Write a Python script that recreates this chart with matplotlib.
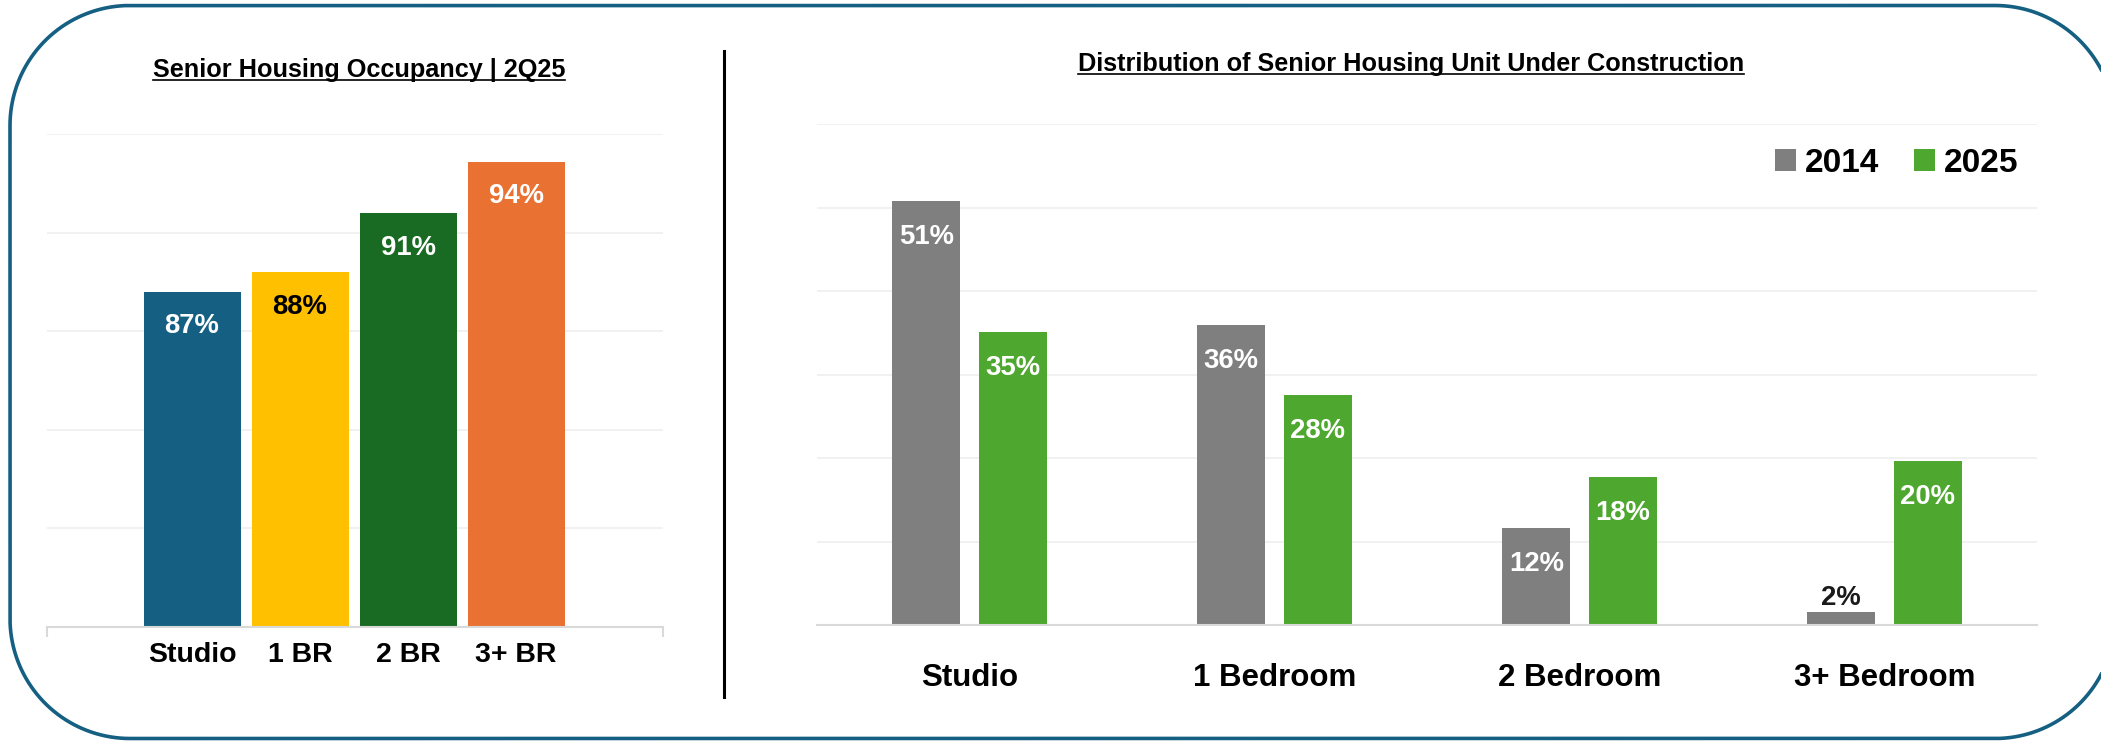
import numpy as np
import matplotlib
matplotlib.use("Agg")
import matplotlib.pyplot as plt
from matplotlib import font_manager
from matplotlib.patches import Patch, PathPatch
from matplotlib.path import Path
from matplotlib.transforms import IdentityTransform
from matplotlib.lines import Line2D

# left chart: occupancy by unit type
occ_cats = ["Studio", "1 BR", "2 BR", "3+ BR"]
occ_vals = [0.87, 0.88, 0.91, 0.936]
occ_colors = ["#156082", "#ffc000", "#196b24", "#e97132"]
occ_label_colors = ["white", "black", "white", "white"]

# right chart: units under construction
dist_cats = ["Studio", "1 Bedroom", "2 Bedroom", "3+ Bedroom"]
dist_2014 = [0.508, 0.359, 0.116, 0.016]
dist_2025 = [0.351, 0.276, 0.177, 0.196]
series_names = ["2014", "2025"]
series_colors = ["#7f7f7f", "#4ea72e"]

W, H = 2101, 742
BORDER = "#156082"
GRID = "#efefef"
AXIS = "#d9d9d9"

names = {f.name for f in font_manager.fontManager.ttflist}
if "Liberation Sans Narrow" in names:
    TITLE_FONT, TITLE_SIZE = "Liberation Sans Narrow", 22
else:
    TITLE_FONT, TITLE_SIZE = "Liberation Sans", 18.2
plt.rcParams["font.family"] = ["Liberation Sans", "DejaVu Sans"]


def px_box(x0, y0, x1, y1):
    # pixel box (y from top) -> figure fraction rect
    return [x0 / W, (H - y1) / H, (x1 - x0) / W, (y1 - y0) / H]


def style_axes(ax):
    ax.set_facecolor("none")
    for s in ["top", "left", "right"]:
        ax.spines[s].set_visible(False)
    ax.spines["bottom"].set_color(AXIS)
    ax.spines["bottom"].set_linewidth(1.5)
    ax.yaxis.grid(True, color=GRID, linewidth=1.2)
    ax.set_axisbelow(True)
    ax.tick_params(axis="y", length=0, labelleft=False)


def rounded_frame(x0, y0, x1, y1, r):
    # closed outline in pixel coords (y up), circular corners
    pts = []
    for cx, cy, a0 in [(x1 - r, y1 - r, 0), (x0 + r, y1 - r, 90),
                       (x0 + r, y0 + r, 180), (x1 - r, y0 + r, 270)]:
        a = np.radians(np.linspace(a0, a0 + 90, 40))
        pts += list(zip(cx + r * np.cos(a), cy + r * np.sin(a)))
    pts.append(pts[0])
    return Path(pts)


fig = plt.figure(figsize=(W / 100, H / 100), dpi=100)

# ---- left chart
ax1 = fig.add_axes(px_box(47, 134, 663, 627))
style_axes(ax1)
xl0, xl1 = -1.343, 4.361
x1 = np.arange(len(occ_cats))
ax1.bar(x1, occ_vals, width=0.898, color=occ_colors, zorder=2)
ax1.set_xlim(xl0, xl1)
ax1.set_ylim(0.70, 0.95)
ax1.set_yticks([0.70, 0.75, 0.80, 0.85, 0.90, 0.95])
ax1.set_xticks(x1)
ax1.set_xticklabels(occ_cats, fontsize=20.5, fontweight="bold")
ax1.set_xticks([xl0, xl1], minor=True)
ax1.tick_params(axis="x", which="major", length=0, pad=11)
ax1.tick_params(axis="x", which="minor", length=7, width=1.5, color=AXIS)
for xi, v, c in zip(x1, occ_vals, occ_label_colors):
    ax1.annotate(f"{v:.0%}", (xi, v), xytext=(0, -30), textcoords="offset points",
                 ha="center", va="baseline", fontsize=19.8, fontweight="bold", color=c)

# ---- right chart
ax2 = fig.add_axes(px_box(817, 124, 2037, 625))
style_axes(ax2)
x2 = np.arange(len(dist_cats))
bw, off = 0.223, 0.1415
ax2.bar(x2 - off, dist_2014, width=bw, color=series_colors[0], zorder=2)
ax2.bar(x2 + off, dist_2025, width=bw, color=series_colors[1], zorder=2)
ax2.set_xlim(-0.5, 3.5)
ax2.set_ylim(0, 0.6)
ax2.set_yticks([0, 0.1, 0.2, 0.3, 0.4, 0.5, 0.6])
ax2.set_xticks(x2)
ax2.set_xticklabels(dist_cats, fontsize=22.5, fontweight="bold")
ax2.tick_params(axis="x", length=0, pad=27)
for xs, vals in [(x2 - off, dist_2014), (x2 + off, dist_2025)]:
    for xi, v in zip(xs, vals):
        if v < 0.05:
            ax2.annotate(f"{v:.0%}", (xi, v), xytext=(0, 5), textcoords="offset points",
                         ha="center", va="baseline", fontsize=19.8, fontweight="bold",
                         color="#1a1a1a")
        else:
            ax2.annotate(f"{v:.0%}", (xi, v), xytext=(0, -31), textcoords="offset points",
                         ha="center", va="baseline", fontsize=19.8, fontweight="bold",
                         color="white")

handles = [Patch(facecolor=c, edgecolor="none") for c in series_colors]
fig.legend(handles, series_names, loc="center right", bbox_to_anchor=(2018 / W, (H - 163) / H),
           ncol=2, frameon=False, prop={"size": 24, "weight": "bold"},
           handlelength=0.63, handleheight=0.63, handletextpad=0.27,
           columnspacing=1.02, borderpad=0, borderaxespad=0)

# ---- titles with underline
t1 = fig.text(359 / W, (H - 77) / H, "Senior Housing Occupancy | 2Q25", ha="center",
              va="baseline", fontsize=TITLE_SIZE, fontweight="bold",
              family=[TITLE_FONT, "DejaVu Sans"])
t2 = fig.text(1411 / W, (H - 71) / H, "Distribution of Senior Housing Unit Under Construction",
              ha="center", va="baseline", fontsize=TITLE_SIZE, fontweight="bold",
              family=[TITLE_FONT, "DejaVu Sans"])

# ---- frame and divider (frame runs past the right edge, as in the source)
frame = PathPatch(rounded_frame(10, 3.5, 2115, 736.5, 120), transform=IdentityTransform(),
                  fill=False, edgecolor=BORDER, linewidth=2.6)
fig.add_artist(frame)
fig.add_artist(Line2D([723.5, 723.5], [H - 51, H - 697], transform=IdentityTransform(),
                      color="black", linewidth=2.2))

fig.canvas.draw()
renderer = fig.canvas.get_renderer()
for t, y_ul in [(t1, 80), (t2, 73.5)]:
    bb = t.get_window_extent(renderer)
    fig.add_artist(Line2D([bb.x0, bb.x1], [H - y_ul, H - y_ul], transform=IdentityTransform(),
                          color="black", linewidth=1.2))

fig.savefig("out.png", dpi=100, facecolor="white")
